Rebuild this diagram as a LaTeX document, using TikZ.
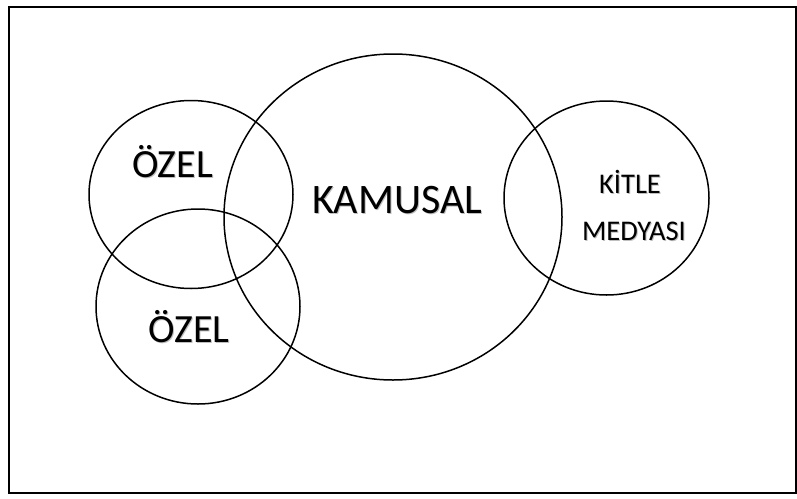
\documentclass[tikz,border=0pt]{standalone}
\usepackage{fontspec}
\setmainfont{Carlito}
\usetikzlibrary{shapes.geometric}
\newcommand\shtxt[1]{\leavevmode\rlap{\kern1pt\raisebox{-1pt}{\textcolor{black!25}{#1}}}#1}
\begin{document}
\begin{tikzpicture}[x=1pt,y=-1pt,
  venn/.style={draw=black, line width=1.5pt, ellipse, inner sep=0pt},
  lbl/.style={anchor=base, inner sep=0pt, text=black}]
\useasboundingbox (0,0) rectangle (797,498);
\draw[line width=2pt] (9,6.7) rectangle (796,493.3);
\node[venn, minimum width=204pt, minimum height=188pt] (ozelA) at (191,194.5) {};
\node[venn, minimum width=204pt, minimum height=195pt] (ozelB) at (198,306.5) {};
\node[venn, minimum width=338pt, minimum height=326pt] (kamusal) at (393,217) {};
\node[venn, minimum width=205pt, minimum height=194pt] (kitle) at (606.5,198) {};
\node[lbl, font=\fontsize{40}{48}\selectfont] (tozelA) at (172.5,177) {\shtxt{ÖZEL}};
\node[lbl, font=\fontsize{40}{48}\selectfont] (tozelB) at (189,342) {\shtxt{ÖZEL}};
\node[lbl, font=\fontsize{42}{50}\selectfont] (tkamusal) at (397,213) {\shtxt{KAMUSAL}};
\node[lbl, font=\fontsize{28.5}{34}\selectfont] (tkitle) at (630,193) {\shtxt{KİTLE}};
\node[lbl, font=\fontsize{28.5}{34}\selectfont] (tmedya) at (634,240) {\shtxt{MEDYASI}};
\end{tikzpicture}
\end{document}
